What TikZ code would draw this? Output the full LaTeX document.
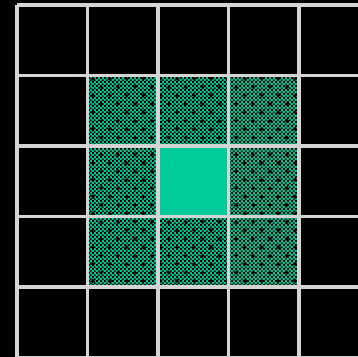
\documentclass[tikz,border=0pt]{standalone}
\usetikzlibrary{patterns}
\definecolor{cellteal}{HTML}{00CC99}
\definecolor{gridgray}{HTML}{D4D4D4}
\pgfdeclarepatternformonly{finechecker}{\pgfqpoint{0pt}{0pt}}{\pgfqpoint{3pt}{3pt}}{\pgfqpoint{3pt}{3pt}}{%
\pgfpathrectangle{\pgfqpoint{0pt}{0pt}}{\pgfqpoint{1.5pt}{1.5pt}}%
\pgfpathrectangle{\pgfqpoint{1.5pt}{1.5pt}}{\pgfqpoint{1.5pt}{1.5pt}}%
\pgfusepath{fill}}
\pgfdeclarepatternformonly{plusdots}{\pgfqpoint{-2pt}{-2pt}}{\pgfqpoint{14pt}{14pt}}{\pgfqpoint{12pt}{12pt}}{%
\pgfpathrectangle{\pgfqpoint{-1.5pt}{-0.5pt}}{\pgfqpoint{3pt}{1pt}}%
\pgfpathrectangle{\pgfqpoint{-0.5pt}{-1.5pt}}{\pgfqpoint{1pt}{3pt}}%
\pgfpathrectangle{\pgfqpoint{4.5pt}{5.5pt}}{\pgfqpoint{3pt}{1pt}}%
\pgfpathrectangle{\pgfqpoint{5.5pt}{4.5pt}}{\pgfqpoint{1pt}{3pt}}%
\pgfusepath{fill}}
\begin{document}
\begin{tikzpicture}[x=0.025cm,y=-0.025cm,
  halo/.style={fill=cellteal},
  grain/.style={pattern=finechecker,pattern color=black},
  specks/.style={pattern=plusdots,pattern color=black},
  gridline/.style={draw=gridgray,line width=2.2pt}]
\useasboundingbox (0,0) rectangle (358,357);
\fill[black] (0,0) rectangle (358,357);
\begin{scope}
\clip (0,0) rectangle (358,357);
% neighbour cells
\foreach \i in {1,2,3}{
  \foreach \j in {1,2,3}{
    \fill[halo] (17+70.5*\i,5+70.5*\j) rectangle +(70.5,70.5);
    \fill[grain] (17+70.5*\i,5+70.5*\j) rectangle +(70.5,70.5);
    \fill[specks] (17+70.5*\i,5+70.5*\j) rectangle +(70.5,70.5);
  }
}
% centre cell
\fill[halo] (158,146) rectangle +(70.5,70.5);
% grid
\foreach \k in {0,...,5}{
  \draw[gridline] (17+70.5*\k,5) -- (17+70.5*\k,380);
  \draw[gridline] (17,5+70.5*\k) -- (380,5+70.5*\k);
}
\end{scope}
\end{tikzpicture}
\end{document}
